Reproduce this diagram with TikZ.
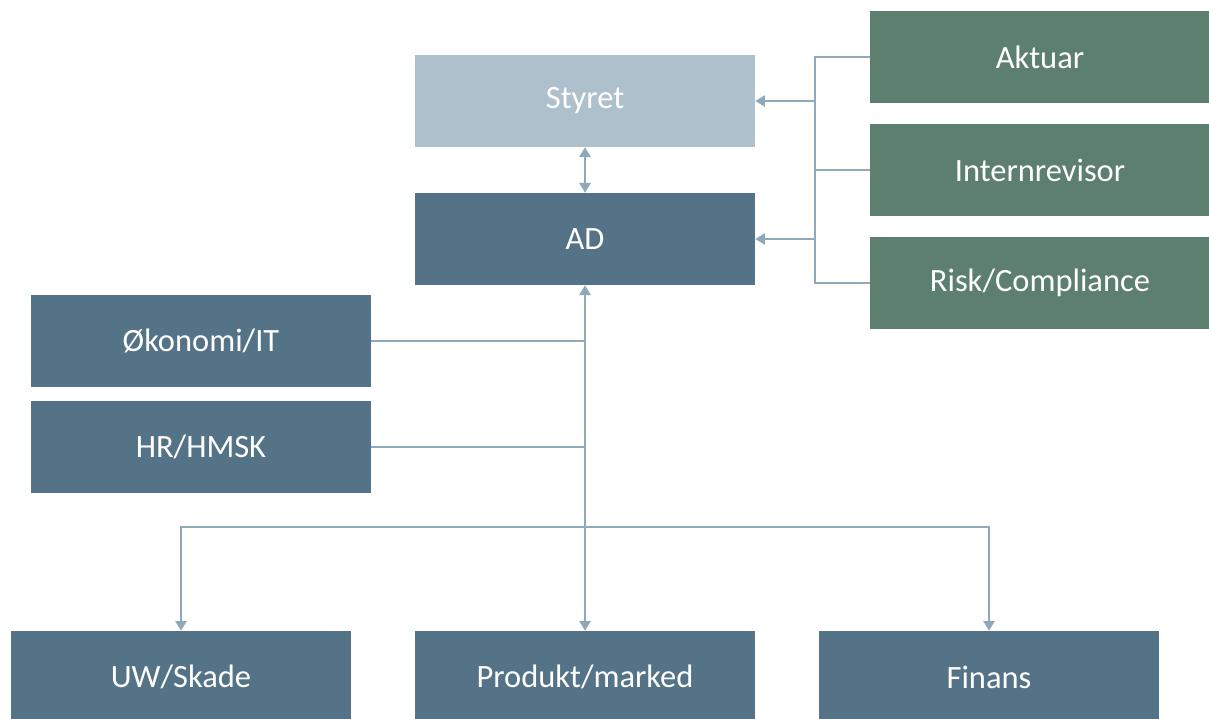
\documentclass[tikz,border=0pt]{standalone}
\usepackage{fontspec}
\setmainfont{Carlito}
\usepackage{tikz}
\usetikzlibrary{arrows.meta, positioning}

\definecolor{boardblue}{HTML}{ADC0CC}
\definecolor{unitblue}{HTML}{557387}
\definecolor{ctrlgreen}{HTML}{5D7F6F}
\definecolor{wire}{HTML}{8FA9BA}

\begin{document}
\begin{tikzpicture}[x=0.02cm,y=-0.02cm,>={Triangle[width=6.5pt,length=5.5pt]},
	font=\fontsize{18.5}{22}\selectfont]
	\tikzset{box/.style={minimum width=6.8cm, minimum height=1.84cm, inner sep=0pt, text=white, fill=unitblue},
		board/.style={box, fill=boardblue},
		ctrl/.style={box, fill=ctrlgreen},
		line/.style={draw=wire, line width=0.8pt}}
	\useasboundingbox (0,0) rectangle (1209,719);
	% top of the chart
	\node[board] (styret) at (585,101) {Styret};
	\node[box] (ad) at (585,239) {AD};
	% control functions on the right
	\node[ctrl] (aktuar) at (1040,57) {Aktuar};
	\node[ctrl] (internrevisor) at (1040,170) {Internrevisor};
	\node[ctrl] (risk) at (1040,283) {Risk/Compliance};
	% staff units
	\node[box] (okonomi) at (201,341) {Økonomi/IT};
	\node[box] (hr) at (201,447) {HR/HMSK};
	% business lines
	\node[box] (uw) at (181,677) {UW/Skade};
	\node[box] (produkt) at (585,677) {Produkt/marked};
	\node[box] (finans) at (989,677) {Finans};
	\coordinate (bus) at (815,0);
	\coordinate (fork) at (585,527);

	\path[line, <->] (styret) -- (ad);
	\path[line] (aktuar.west) -- (aktuar.west -| bus) -- (risk.west -| bus) -- (risk.west);
	\path[line] (internrevisor.west) -- (internrevisor.west -| bus);
	\path[line, ->] (styret.east -| bus) -- (styret.east);
	\path[line, ->] (ad.east -| bus) -- (ad.east);
	\path[line, <->] (ad) -- (produkt);
	\path[line] (okonomi.east) -- (okonomi.east -| ad.south);
	\path[line] (hr.east) -- (hr.east -| ad.south);
	\path[line, ->] (fork) -| (uw);
	\path[line, ->] (fork) -| (finans);
\end{tikzpicture}
\end{document}
